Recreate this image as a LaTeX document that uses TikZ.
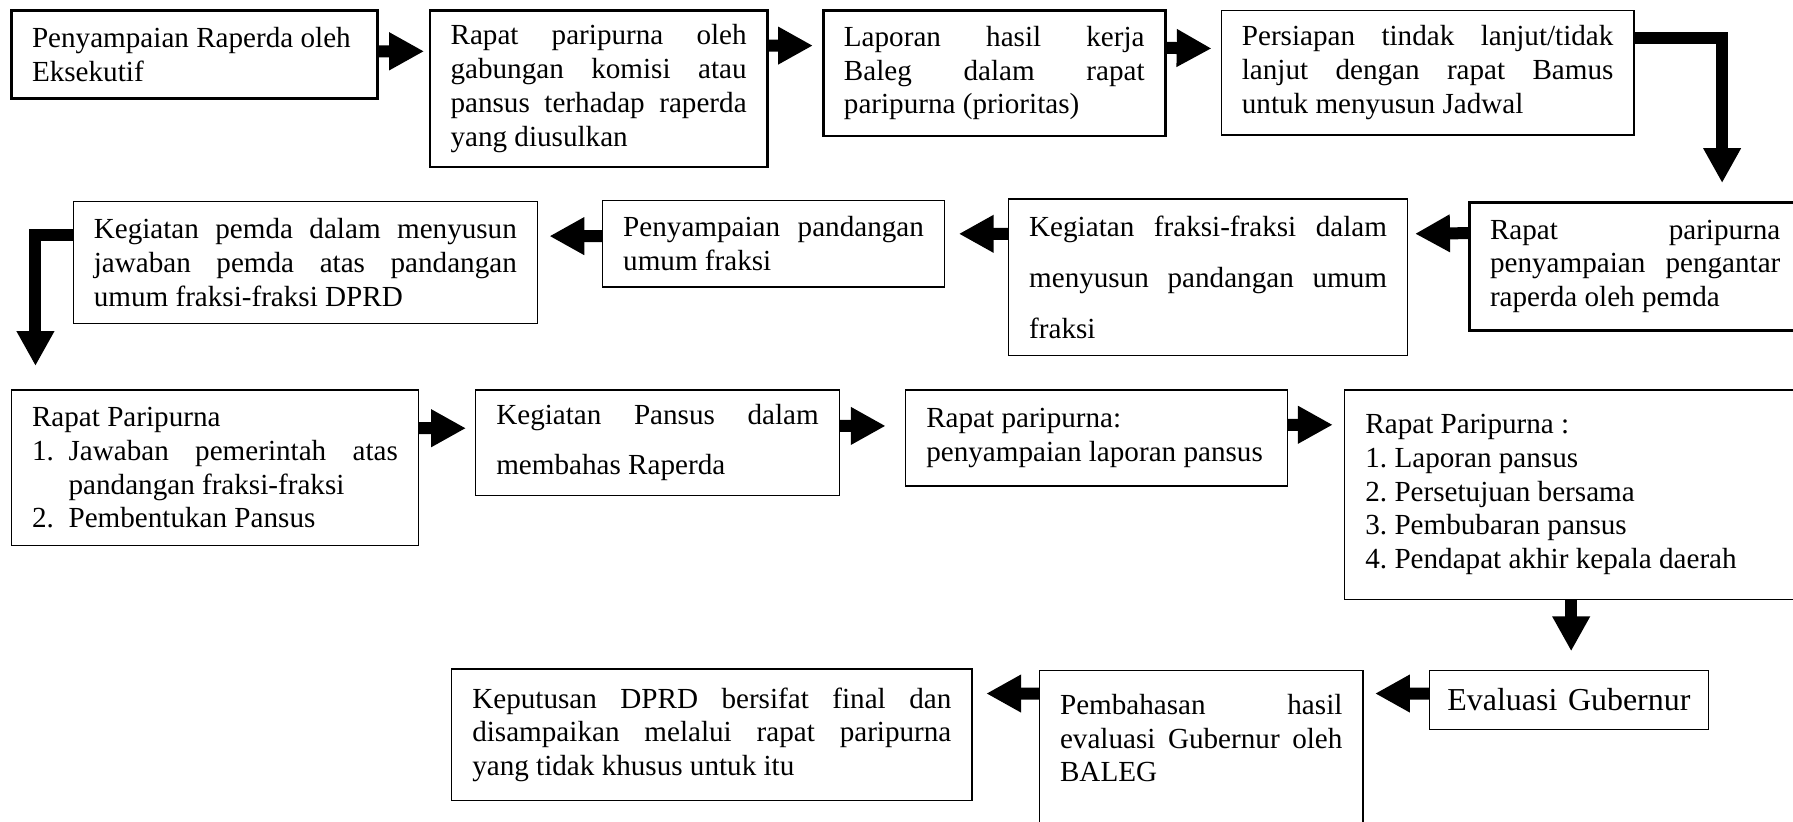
\documentclass[tikz,border=0pt]{standalone}
\usepackage{fontspec}
\setmainfont{Liberation Serif}
\usetikzlibrary{arrows.meta}
\newcommand{\justline}[1]{\makebox[\hsize][s]{#1}}

\tikzset{
  procbox/.style={draw,line width=0.6pt,align=justify,inner xsep=0.36cm,inner ysep=0.1cm,
    font=\fontsize{14.5pt}{16.8pt}\selectfont\frenchspacing},
  thickbox/.style={procbox,line width=1.3pt},
  widebox/.style={procbox,font=\fontsize{14.5pt}{25.3pt}\selectfont\frenchspacing},
  blockarrow/.style={line width=0.21cm,-{Triangle[length=0.61cm,width=0.62cm]},shorten >=0.16cm}
}

\begin{document}
\begin{tikzpicture}[x=0.02cm,y=-0.02cm]
    \useasboundingbox (0,0) rectangle (1568,718);
    % baris 1
    \node[thickbox,text width=5.68cm,minimum height=1.54cm] (penyampaian) at (170,47.5) {Penyampaian Raperda oleh\\Eksekutif};
    \node[thickbox,text width=5.18cm,minimum height=2.74cm] (rapatgab) at (523.5,77.5) {\justline{Rapat paripurna oleh}\\\justline{gabungan komisi atau}\\\justline{pansus terhadap raperda}\\yang diusulkan};
    \node[thickbox,text width=5.26cm,minimum height=2.20cm] (laporan) at (869.5,64) {\justline{Laporan hasil kerja}\\\justline{Baleg dalam rapat}\\paripurna (prioritas)};
    \node[procbox,text width=6.50cm,minimum height=2.18cm] (persiapan) at (1248.5,63.5) {\justline{Persiapan tindak lanjut/tidak}\\\justline{lanjut dengan rapat Bamus}\\untuk menyusun Jadwal};
    % baris 2
    \node[thickbox,text width=5.08cm,minimum height=2.24cm] (pengantar) at (1430,233) {\justline{Rapat paripurna}\\\justline{penyampaian pengantar}\\raperda oleh pemda};
    \node[widebox,text width=6.26cm,minimum height=2.74cm] (kegfraksi) at (1056.5,242.5) {\justline{Kegiatan fraksi-fraksi dalam}\\\justline{menyusun pandangan umum}\\fraksi};
    \node[procbox,text width=5.26cm,minimum height=1.52cm] (pandangan) at (676.5,213) {\justline{Penyampaian pandangan}\\umum fraksi};
    \node[procbox,text width=7.40cm,minimum height=2.14cm] (jawaban) at (267,229.5) {\justline{Kegiatan pemda dalam menyusun}\\\justline{jawaban pemda atas pandangan}\\umum fraksi-fraksi DPRD};
    % baris 3
    \node[procbox,text width=6.40cm,minimum height=2.72cm] (paripurnaA) at (188,409) {Rapat Paripurna\\\makebox[0.64cm][l]{1.}\makebox[\dimexpr\hsize-0.64cm\relax][s]{Jawaban pemerintah atas}\\\hspace*{0.64cm}pandangan fraksi-fraksi\\\makebox[0.64cm][l]{2.}Pembentukan Pansus};
    \node[widebox,text width=5.64cm,minimum height=1.84cm] (kegpansus) at (575,387) {\justline{Kegiatan Pansus dalam}\\membahas Raperda};
    \node[procbox,text width=5.96cm,minimum height=1.68cm] (lappansus) at (959,383) {Rapat paripurna:\\penyampaian laporan pansus};
    \node[procbox,text width=7.20cm,minimum height=3.66cm] (paripurnaB) at (1374,432.5) {Rapat Paripurna :\\1. Laporan pansus\\2. Persetujuan bersama\\3. Pembubaran pansus\\4. Pendapat akhir kepala daerah};
    % baris 4
    \node[procbox,align=center,inner xsep=0.24cm,text width=4.40cm,minimum height=1.04cm,font=\fontsize{15.9pt}{18pt}\selectfont] (evaluasi) at (1372,612) {Evaluasi Gubernur};
    \node[procbox,text width=4.94cm,minimum height=3.56cm] (pembahasan) at (1050.5,675) {\justline{Pembahasan hasil}\\\justline{evaluasi Gubernur oleh}\\BALEG\\~\\~};
    \node[procbox,text width=8.38cm,minimum height=2.30cm] (keputusan) at (622.5,642.5) {\justline{Keputusan DPRD bersifat final dan}\\\justline{disampaikan melalui rapat paripurna}\\yang tidak khusus untuk itu};

    \coordinate (tipA) at (1506,160);
    \coordinate (tipB) at (31,320);

    \draw[blockarrow,shorten >=0.08cm] ([yshift=-0.74cm]penyampaian.north east) -- ([yshift=-0.74cm]rapatgab.north west);
    \draw[blockarrow] ([yshift=-0.64cm]rapatgab.north east) -- ([yshift=-0.64cm]laporan.north west);
    \draw[blockarrow] ([yshift=-0.68cm]laporan.north east) -- ([yshift=-0.68cm]persiapan.north west);
    \draw[blockarrow,shorten >=0pt] ([yshift=-0.5cm]persiapan.north east) -| (tipA);
    \draw[blockarrow,shorten >=0.12cm] ([yshift=-0.56cm]pengantar.north west) -- ([yshift=-0.62cm]kegfraksi.north east);
    \draw[blockarrow,shorten >=0.24cm] ([yshift=-0.62cm]kegfraksi.north west) -- ([yshift=-0.60cm]pandangan.north east);
    \draw[blockarrow,shorten >=0.20cm] ([yshift=-0.64cm]pandangan.north west) -- ([yshift=-0.62cm]jawaban.north east);
    \draw[blockarrow,shorten >=0pt] ([yshift=-0.6cm]jawaban.north west) -| (tipB);
    \draw[blockarrow] ([yshift=-0.68cm]paripurnaA.north east) -- ([yshift=-0.68cm]kegpansus.north west);
    \draw[blockarrow,shorten >=0.34cm] ([yshift=-0.64cm]kegpansus.north east) -- ([yshift=-0.64cm]lappansus.north west);
    \draw[blockarrow,shorten >=0.20cm] ([yshift=-0.62cm]lappansus.north east) -- ([yshift=-0.62cm]paripurnaB.north west);
    \draw[blockarrow,shorten >=0.32cm] (paripurnaB.south) -- (paripurnaB.south |- evaluasi.north);
    \draw[blockarrow,shorten >=0.20cm] ([yshift=-0.42cm]evaluasi.north west) -- ([yshift=-0.42cm]pembahasan.north east);
    \draw[blockarrow,shorten >=0.24cm] ([yshift=-0.42cm]pembahasan.north west) -- ([yshift=-0.44cm]keputusan.north east);
\end{tikzpicture}
\end{document}
